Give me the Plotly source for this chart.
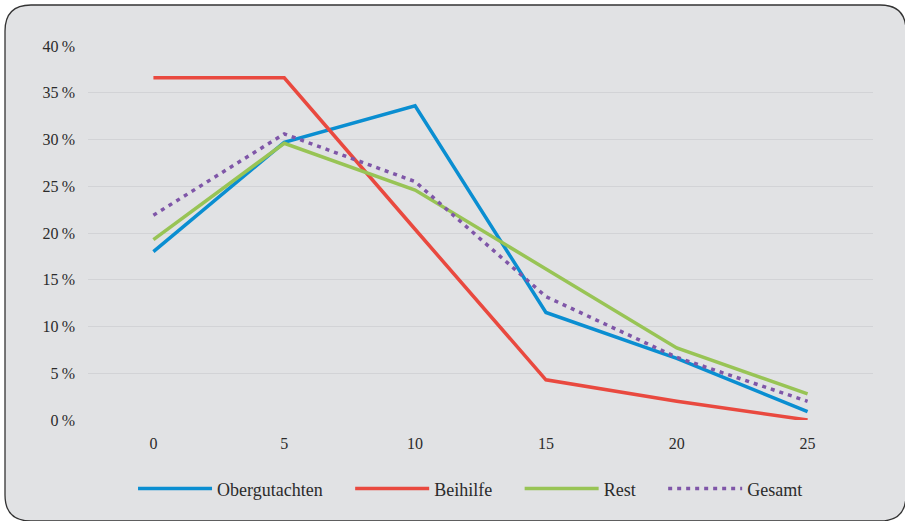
import plotly.graph_objects as go

x_years = [0, 5, 10, 15, 20, 25]
obergutachten = [18.0, 29.7, 33.6, 11.5, 6.6, 0.9]
beihilfe = [36.6, 36.6, 20.4, 4.3, 2.0, 0.0]
rest = [19.3, 29.6, 24.6, 16.1, 7.7, 2.8]
gesamt = [21.9, 30.6, 25.5, 13.2, 6.7, 2.0]
y_ticks = [0, 5, 10, 15, 20, 25, 30, 35, 40]
y_ticklabels = [f"{v}\u202f%" for v in y_ticks]

series = [
    ("Obergutachten", obergutachten, "#0a8ed1", "solid"),
    ("Beihilfe", beihilfe, "#e9493f", "solid"),
    ("Rest", rest, "#98c455", "solid"),
    ("Gesamt", gesamt, "#7f56a8", "4px,5px"),
]

fig = go.Figure()
for i, (name, vals, color, dash) in enumerate(series):
    label = name + ("\u00a0" * 5 if i < len(series) - 1 else "")
    fig.add_trace(go.Scatter(
        x=x_years, y=vals, name=label, mode="lines",
        line=dict(color=color, width=3.5, dash=dash),
        cliponaxis=False,
    ))

W, H = 905, 521
ml, mr, mt, mb = 88, 32, 46, 101
pw, ph = W - ml - mr, H - mt - mb

def px2paper_x(px):
    return (px - ml) / pw

def px2paper_y(py):
    return (H - mb - py) / ph

# rounded rectangle border
x0, x1, y0, y1, r = 5, 906, 5, 521, 26
def P(px, py):
    return f"{px2paper_x(px):.5f},{px2paper_y(py):.5f}"
path = (f"M {P(x0 + r, y0)} L {P(x1 - r, y0)} "
        f"Q {P(x1, y0)} {P(x1, y0 + r)} L {P(x1, y1 - r)} "
        f"Q {P(x1, y1)} {P(x1 - r, y1)} L {P(x0 + r, y1)} "
        f"Q {P(x0, y1)} {P(x0, y1 - r)} L {P(x0, y0 + r)} "
        f"Q {P(x0, y0)} {P(x0 + r, y0)} Z")

serif = "Liberation Serif"

fig.update_layout(
    width=W, height=H,
    margin=dict(l=ml, r=mr, t=mt, b=mb),
    paper_bgcolor="white",
    plot_bgcolor="rgba(0,0,0,0)",
    font=dict(family=serif, size=16, color="#2b2b2b"),
    shapes=[dict(type="path", xref="paper", yref="paper", path=path,
                 fillcolor="#e1e2e4", line=dict(color="#333333", width=1.3),
                 layer="below")],
    xaxis=dict(range=[-2.5, 27.5], tickvals=x_years, showgrid=False, zeroline=False,
               showline=False, ticks="", tickfont=dict(family=serif, size=16, color="#2b2b2b"),
               ticklabelstandoff=12),
    yaxis=dict(range=[0, 40], tickvals=y_ticks, ticktext=y_ticklabels,
               gridcolor="#d2d3d6", gridwidth=1, zeroline=False, showline=False,
               ticks="", tickfont=dict(family=serif, size=16, color="#2b2b2b"),
               ticklabelstandoff=12),
    legend=dict(orientation="h", x=0.4873, xanchor="center", y=-0.184, yanchor="middle",
                itemwidth=74, font=dict(family=serif, size=18, color="#2b2b2b"),
                bgcolor="rgba(0,0,0,0)", tracegroupgap=0),
    showlegend=True,
)

fig.write_html("out.html", post_script="document.body.style.margin='0';",
               config={"displayModeBar": False})
